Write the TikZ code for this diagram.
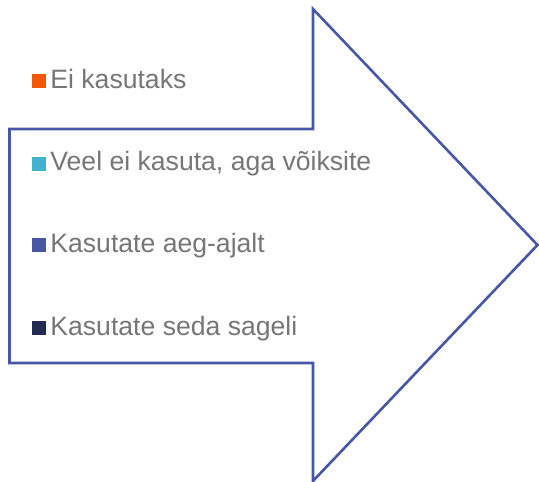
\documentclass[tikz,border=0pt]{standalone}
\usepackage{fontspec}
\setmainfont{Liberation Sans}
\usetikzlibrary{positioning}
\definecolor{outlinecol}{RGB}{72,86,166}
\definecolor{orangecol}{RGB}{242,88,8}
\definecolor{tealcol}{RGB}{64,178,206}
\definecolor{bluecol}{RGB}{72,84,164}
\definecolor{navycol}{RGB}{34,42,84}
\definecolor{txtcol}{RGB}{118,118,118}

\begin{document}
\begin{tikzpicture}[x=1pt, y=-1pt,
  bigarrow/.style={draw=outlinecol, line width=2.6pt, line join=miter},
  swatch/.style={rectangle, fill=#1, minimum size=14pt, inner sep=0pt},
  itemtext/.style={font=\fontsize{26.6}{32}\selectfont, text=txtcol, inner sep=0pt, anchor=base west}
]
\useasboundingbox (0,0) rectangle (539,482);

% block arrow
\draw[bigarrow] (9.5,129) -- (313,129) -- (313,9) -- (537.5,245)
  -- (313,481) -- (313,363) -- (9.5,363) -- cycle;

% legend
\node[swatch=orangecol] (sq1) at (39,81)    {};
\node[swatch=tealcol]   (sq2) at (39,163.5) {};
\node[swatch=bluecol]   (sq3) at (39,245)   {};
\node[swatch=navycol]   (sq4) at (39,328)   {};

\node[itemtext] (tx1) at ([xshift=4pt]sq1.south east) {Ei kasutaks};
\node[itemtext] (tx2) at ([xshift=4pt]sq2.south east) {Veel ei kasuta, aga võiksite};
\node[itemtext] (tx3) at ([xshift=4pt]sq3.south east) {Kasutate aeg-ajalt};
\node[itemtext] (tx4) at ([xshift=4pt]sq4.south east) {Kasutate seda sageli};

\end{tikzpicture}
\end{document}
